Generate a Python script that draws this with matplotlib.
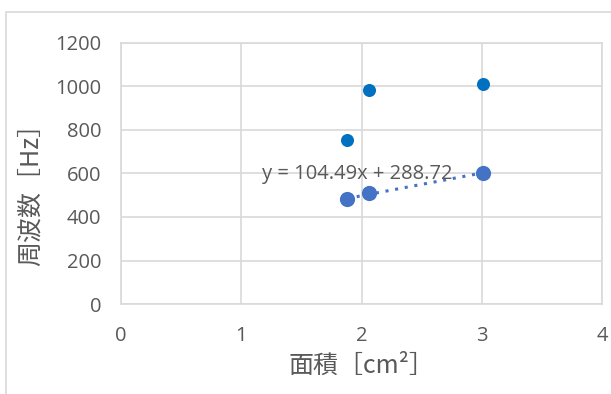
import numpy as np
import matplotlib.pyplot as plt
from matplotlib.patches import Rectangle

plt.rcParams['font.family'] = ['Open Sans', 'Noto Sans CJK JP', 'DejaVu Sans']

# データ
area1 = [1.88, 2.06, 3.01]
freq1 = [752, 985, 1012]
area2 = [1.88, 2.06, 3.01]
freq2 = [482, 511, 604]
slope = 104.49
intercept = 288.72

gray = '#595959'

fig = plt.figure(figsize=(6.11, 3.94), dpi=100)
ax = fig.add_axes([121/611, 1-304/394, 481/611, 261/394])

# グラフ枠
fig.patches.append(Rectangle((6/611, -0.1), 1.2, 1-12/394+0.1, transform=fig.transFigure,
                             fill=False, edgecolor='#d9d9d9', linewidth=1.2))

ax.scatter(area1, freq1, s=88, color='#0070C0', zorder=3, linewidths=0)
ax.scatter(area2, freq2, s=120, color='#4472C4', zorder=3, linewidths=0)

# 近似直線
tx = np.array([min(area2), max(area2)])
ax.plot(tx, slope*tx + intercept, color='#4472C4', linestyle=(0, (1, 2.2)),
        linewidth=2.2, zorder=2)
ax.text(1.967, 598, 'y = 104.49x + 288.72', color=gray, fontsize=14.5,
        ha='center', va='center', zorder=4)

ax.set_xlim(0, 4)
ax.set_ylim(0, 1200)
ax.set_xticks([0, 1, 2, 3, 4])
ax.set_yticks(range(0, 1201, 200))
ax.grid(True, color='#d9d9d9', linewidth=1.2)
ax.set_axisbelow(True)
for s in ax.spines.values():
    s.set_color('#d9d9d9')
    s.set_linewidth(1.2)
ax.tick_params(length=0, colors=gray, labelsize=14.5)
ax.tick_params(axis='x', pad=16)
ax.tick_params(axis='y', pad=14)

ax.set_xlabel('面積［cm²］', color=gray, fontsize=18,
              family=['Noto Sans CJK JP', 'DejaVu Sans'], va='center')
ax.set_ylabel('周波数［Hz］', color=gray, fontsize=18,
              family=['Noto Sans CJK JP', 'DejaVu Sans'], va='center')
ax.xaxis.set_label_coords(0.5, -0.2375)
ax.yaxis.set_label_coords(-0.187, 0.444)

fig.savefig('out.png', dpi=100)
